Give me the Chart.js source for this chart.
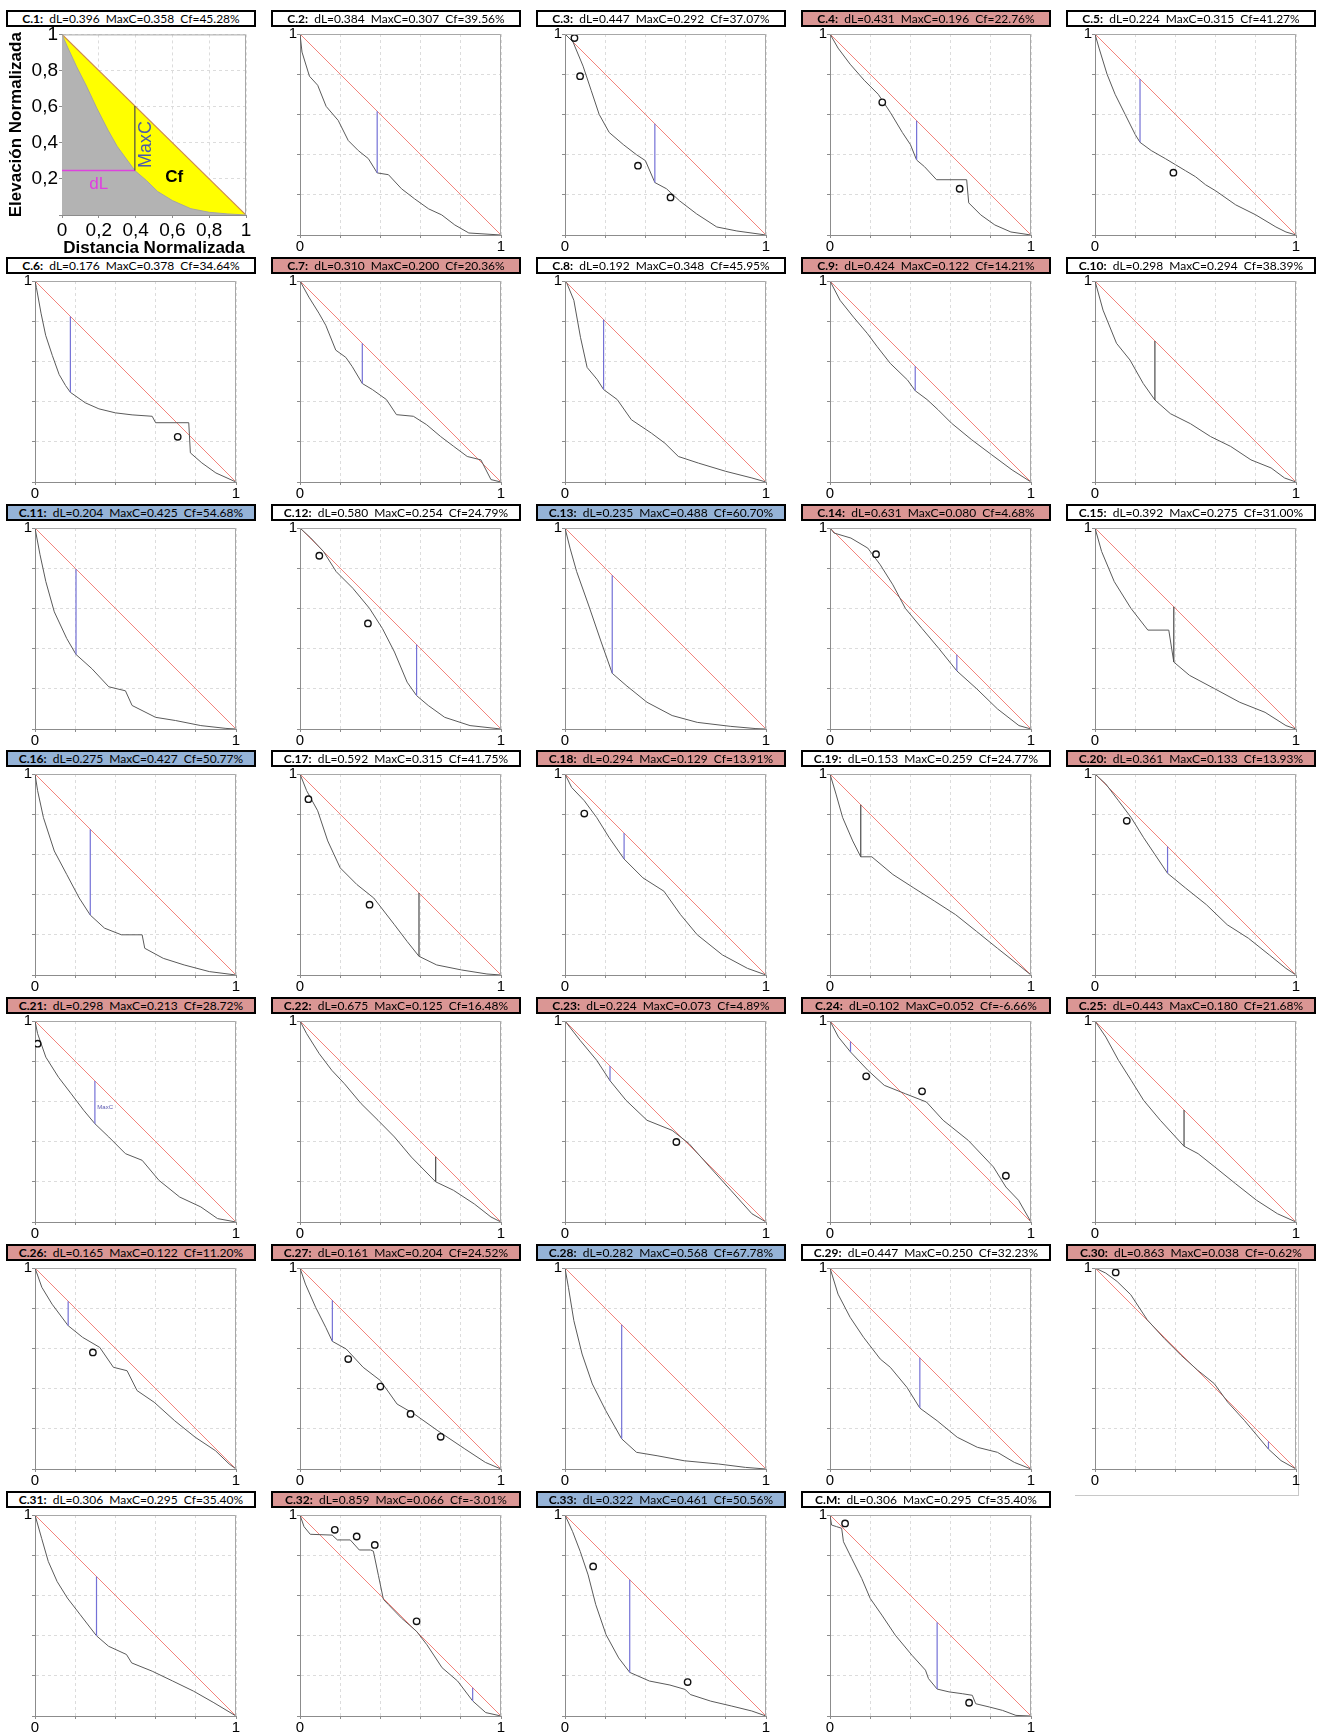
<!DOCTYPE html>
<html>
<head>
<meta charset="utf-8">
<script src="https://cdn.jsdelivr.net/npm/chart.js@4.4.1/dist/chart.umd.min.js"></script>
<style>
  body { margin: 0; width: 1318px; height: 1733px; position: relative; overflow: hidden; background: #fff; }
  .hdr { position: absolute; width: 250px; height: 17px; box-sizing: border-box; border: 2px solid #000;
         font-family: Lato, 'Open Sans', sans-serif; font-size: 12px; line-height: 13px; text-align: center;
         white-space: pre; color: #000; z-index: 2; }
  .hdr.n  { background: #ffffff; }
  .hdr.lo { background: #da9694; }
  .hdr.hi { background: #95b3d7; }
  canvas { position: absolute; z-index: 1; }
  .frame { position: absolute; border-right: 1px solid #c8c8c8; border-bottom: 1px solid #c8c8c8; z-index: 0; }
</style>
</head>
<body>
<script>
// ------------------------------------------------------------
//  Datos de las 34 cuencas
// ------------------------------------------------------------
const panelNames = ['C.1', 'C.2', 'C.3', 'C.4', 'C.5', 'C.6', 'C.7', 'C.8', 'C.9', 'C.10',
  'C.11', 'C.12', 'C.13', 'C.14', 'C.15', 'C.16', 'C.17', 'C.18', 'C.19', 'C.20',
  'C.21', 'C.22', 'C.23', 'C.24', 'C.25', 'C.26', 'C.27', 'C.28', 'C.29', 'C.30',
  'C.31', 'C.32', 'C.33', 'C.M'];
const dLValues = [0.396, 0.384, 0.447, 0.431, 0.224, 0.176, 0.310, 0.192, 0.424, 0.298,
  0.204, 0.580, 0.235, 0.631, 0.392, 0.275, 0.592, 0.294, 0.153, 0.361,
  0.298, 0.675, 0.224, 0.102, 0.443, 0.165, 0.161, 0.282, 0.447, 0.863,
  0.306, 0.859, 0.322, 0.306];
const maxCValues = [0.358, 0.307, 0.292, 0.196, 0.315, 0.378, 0.200, 0.348, 0.122, 0.294,
  0.425, 0.254, 0.488, 0.080, 0.275, 0.427, 0.315, 0.129, 0.259, 0.133,
  0.213, 0.125, 0.073, 0.052, 0.180, 0.122, 0.204, 0.568, 0.250, 0.038,
  0.295, 0.066, 0.461, 0.295];
const cfValues = [45.28, 39.56, 37.07, 22.76, 41.27, 34.64, 20.36, 45.95, 14.21, 38.39,
  54.68, 24.79, 60.70, 4.68, 31.00, 50.77, 41.75, 13.91, 24.77, 13.93,
  28.72, 16.48, 4.89, -6.66, 21.68, 11.20, 24.52, 67.78, 32.23, -0.62,
  35.40, -3.01, 50.56, 35.40];
// clase de cada cuenca (color del encabezado)
const panelClass = ['n', 'n', 'n', 'lo', 'n', 'n', 'lo', 'n', 'lo', 'n',
  'hi', 'n', 'hi', 'lo', 'n', 'hi', 'n', 'lo', 'n', 'lo',
  'lo', 'lo', 'lo', 'lo', 'lo', 'lo', 'lo', 'hi', 'n', 'lo',
  'n', 'lo', 'hi', 'n'];
// tipo de trazo de MaxC: b = azul, k = gris oscuro
const markerKind = ['k', 'b', 'b', 'b', 'b', 'b', 'b', 'b', 'b', 'k',
  'b', 'b', 'b', 'b', 'k', 'b', 'k', 'b', 'k', 'b',
  'b', 'k', 'b', 'b', 'k', 'b', 'b', 'b', 'b', 'b',
  'b', 'b', 'b', 'b'];
// en C.M la linea MaxC esta dibujada en otra posicion: [x, longitud]
const cmMarker = [0.533, 0.333];

const tickValues = [0, 0.2, 0.4, 0.6, 0.8, 1];
const diagonal = [[0, 1], [1, 0]];

// perfiles hipsometricos normalizados [distancia, elevacion]
const c01 = [[0, 1], [0.03, 0.93], [0.08, 0.82], [0.13, 0.72], [0.19, 0.59], [0.25, 0.47], [0.3, 0.38], [0.35, 0.31], [0.396, 0.246], [0.46, 0.19], [0.52, 0.13], [0.6, 0.08], [0.7, 0.035], [0.8, 0.015], [0.9, 0.006], [1, 0]];
const c02 = [[0, 1], [0.01, 0.91], [0.047, 0.79], [0.088, 0.745], [0.13, 0.64], [0.19, 0.57], [0.24, 0.47], [0.29, 0.42], [0.34, 0.38], [0.384, 0.309], [0.44, 0.3], [0.505, 0.23], [0.57, 0.18], [0.64, 0.13], [0.705, 0.1], [0.77, 0.05], [0.84, 0.01], [1, 0]];
const c03 = [[0, 1], [0.04, 0.96], [0.09, 0.84], [0.13, 0.72], [0.17, 0.6], [0.22, 0.51], [0.29, 0.45], [0.355, 0.4], [0.4, 0.37], [0.447, 0.261], [0.505, 0.23], [0.57, 0.17], [0.655, 0.105], [0.755, 0.04], [0.855, 0.02], [1, 0]];
const c04 = [[0, 1], [0.04, 0.93], [0.1, 0.85], [0.17, 0.77], [0.24, 0.7], [0.3, 0.61], [0.36, 0.51], [0.4, 0.45], [0.431, 0.373], [0.47, 0.34], [0.53, 0.275], [0.68, 0.275], [0.69, 0.16], [0.75, 0.1], [0.82, 0.05], [0.9, 0.015], [1, 0]];
const c05 = [[0, 1], [0.02, 0.93], [0.06, 0.8], [0.1, 0.7], [0.15, 0.6], [0.2, 0.5], [0.224, 0.461], [0.28, 0.42], [0.35, 0.38], [0.4, 0.35], [0.45, 0.32], [0.5, 0.29], [0.55, 0.25], [0.6, 0.22], [0.7, 0.15], [0.8, 0.1], [0.9, 0.04], [0.95, 0.015], [1, 0]];
const c06 = [[0, 1], [0.007, 0.967], [0.03, 0.84], [0.053, 0.73], [0.086, 0.63], [0.12, 0.535], [0.152, 0.48], [0.176, 0.446], [0.25, 0.394], [0.318, 0.364], [0.4, 0.344], [0.483, 0.334], [0.583, 0.327], [0.6, 0.295], [0.765, 0.295], [0.773, 0.145], [0.83, 0.095], [0.9, 0.045], [1, 0]];
const c07 = [[0, 1], [0.044, 0.92], [0.094, 0.84], [0.128, 0.78], [0.178, 0.656], [0.228, 0.62], [0.26, 0.574], [0.31, 0.49], [0.36, 0.46], [0.43, 0.41], [0.48, 0.335], [0.564, 0.327], [0.63, 0.285], [0.7, 0.226], [0.765, 0.177], [0.832, 0.127], [0.9, 0.11], [0.95, 0.012], [1, 0]];
const c08 = [[0, 1], [0.01, 0.987], [0.044, 0.904], [0.077, 0.72], [0.11, 0.57], [0.16, 0.51], [0.192, 0.46], [0.26, 0.41], [0.33, 0.31], [0.43, 0.243], [0.497, 0.193], [0.564, 0.127], [0.664, 0.094], [0.8, 0.053], [0.93, 0.02], [1, 0]];
const c09 = [[0, 1], [0.05, 0.904], [0.117, 0.82], [0.185, 0.74], [0.235, 0.673], [0.3, 0.59], [0.386, 0.507], [0.424, 0.454], [0.483, 0.41], [0.537, 0.36], [0.604, 0.293], [0.705, 0.21], [0.805, 0.135], [0.906, 0.06], [1, 0]];
const c10 = [[0, 1], [0.04, 0.855], [0.107, 0.69], [0.174, 0.607], [0.24, 0.49], [0.298, 0.408], [0.375, 0.34], [0.475, 0.29], [0.575, 0.226], [0.675, 0.177], [0.776, 0.11], [0.876, 0.07], [0.943, 0.02], [1, 0]];
const c11 = [[0, 1], [0.025, 0.867], [0.054, 0.733], [0.096, 0.583], [0.158, 0.45], [0.204, 0.371], [0.283, 0.3], [0.367, 0.21], [0.45, 0.19], [0.483, 0.117], [0.6, 0.058], [0.7, 0.042], [0.825, 0.017], [0.95, 0.003], [1, 0]];
const c12 = [[0, 1], [0.054, 0.95], [0.117, 0.883], [0.18, 0.783], [0.263, 0.7], [0.346, 0.6], [0.41, 0.5], [0.47, 0.383], [0.533, 0.233], [0.58, 0.166], [0.638, 0.117], [0.72, 0.058], [0.846, 0.017], [1, 0]];
const c13 = [[0, 1], [0.025, 0.9], [0.058, 0.783], [0.117, 0.617], [0.18, 0.433], [0.235, 0.277], [0.304, 0.217], [0.408, 0.133], [0.533, 0.067], [0.658, 0.033], [0.825, 0.013], [0.95, 0.002], [1, 0]];
const c14 = [[0, 1], [0.02, 0.975], [0.104, 0.95], [0.188, 0.9], [0.25, 0.817], [0.313, 0.717], [0.375, 0.6], [0.458, 0.5], [0.542, 0.4], [0.631, 0.289], [0.73, 0.2], [0.833, 0.1], [0.94, 0.017], [1, 0]];
const c15 = [[0, 1], [0.033, 0.883], [0.096, 0.733], [0.179, 0.6], [0.263, 0.492], [0.367, 0.492], [0.392, 0.333], [0.47, 0.267], [0.596, 0.2], [0.72, 0.133], [0.846, 0.083], [0.95, 0.017], [1, 0]];
const c16 = [[0, 1], [0.013, 0.917], [0.042, 0.783], [0.096, 0.617], [0.158, 0.5], [0.22, 0.383], [0.275, 0.298], [0.346, 0.233], [0.43, 0.2], [0.533, 0.2], [0.546, 0.133], [0.638, 0.083], [0.742, 0.05], [0.867, 0.017], [1, 0]];
const c17 = [[0, 1], [0.033, 0.917], [0.088, 0.817], [0.138, 0.667], [0.2, 0.533], [0.283, 0.45], [0.367, 0.383], [0.47, 0.25], [0.533, 0.167], [0.592, 0.093], [0.68, 0.05], [0.804, 0.025], [0.93, 0.005], [1, 0]];
const c18 = [[0, 1], [0.033, 0.933], [0.096, 0.867], [0.158, 0.783], [0.22, 0.683], [0.294, 0.577], [0.388, 0.483], [0.492, 0.417], [0.575, 0.3], [0.658, 0.2], [0.783, 0.1], [0.908, 0.033], [1, 0]];
const c19 = [[0, 1], [0.03, 0.9], [0.063, 0.783], [0.113, 0.667], [0.153, 0.588], [0.208, 0.588], [0.313, 0.5], [0.417, 0.433], [0.521, 0.367], [0.625, 0.3], [0.729, 0.217], [0.833, 0.133], [0.938, 0.05], [1, 0]];
const c20 = [[0, 1], [0.054, 0.95], [0.117, 0.867], [0.18, 0.783], [0.242, 0.683], [0.361, 0.506], [0.45, 0.433], [0.554, 0.35], [0.658, 0.25], [0.763, 0.183], [0.867, 0.1], [0.95, 0.033], [1, 0]];
const c21 = [[0, 1], [0.013, 0.937], [0.054, 0.82], [0.117, 0.72], [0.18, 0.638], [0.242, 0.556], [0.298, 0.489], [0.367, 0.423], [0.45, 0.34], [0.533, 0.307], [0.617, 0.207], [0.72, 0.124], [0.825, 0.075], [0.908, 0.017], [1, 0]];
const c22 = [[0, 1], [0.033, 0.937], [0.096, 0.837], [0.158, 0.755], [0.221, 0.688], [0.304, 0.589], [0.388, 0.506], [0.47, 0.423], [0.554, 0.323], [0.675, 0.2], [0.763, 0.158], [0.867, 0.09], [0.95, 0.025], [1, 0]];
const c23 = [[0, 1], [0.075, 0.904], [0.158, 0.804], [0.224, 0.703], [0.304, 0.605], [0.408, 0.506], [0.533, 0.456], [0.617, 0.39], [0.72, 0.274], [0.825, 0.158], [0.93, 0.041], [1, 0]];
const c24 = [[0, 1], [0.042, 0.92], [0.102, 0.846], [0.188, 0.755], [0.27, 0.68], [0.375, 0.638], [0.48, 0.597], [0.563, 0.506], [0.688, 0.406], [0.813, 0.274], [0.875, 0.174], [0.938, 0.108], [1, 0]];
const c25 = [[0, 1], [0.054, 0.92], [0.117, 0.804], [0.18, 0.705], [0.242, 0.605], [0.325, 0.506], [0.443, 0.377], [0.513, 0.34], [0.596, 0.274], [0.7, 0.19], [0.804, 0.108], [0.908, 0.041], [1, 0]];
const c26 = [[0, 1], [0.034, 0.904], [0.085, 0.82], [0.165, 0.713], [0.237, 0.655], [0.322, 0.605], [0.39, 0.506], [0.458, 0.489], [0.508, 0.39], [0.593, 0.332], [0.695, 0.24], [0.797, 0.158], [0.898, 0.091], [0.966, 0.025], [1, 0]];
const c27 = [[0, 1], [0.027, 0.92], [0.078, 0.804], [0.128, 0.705], [0.161, 0.635], [0.23, 0.597], [0.314, 0.506], [0.4, 0.44], [0.483, 0.323], [0.568, 0.274], [0.686, 0.19], [0.82, 0.1], [0.922, 0.033], [1, 0]];
const c28 = [[0, 1], [0.017, 0.904], [0.044, 0.738], [0.085, 0.572], [0.136, 0.423], [0.203, 0.29], [0.282, 0.15], [0.356, 0.083], [0.458, 0.066], [0.593, 0.041], [0.763, 0.025], [0.898, 0.008], [1, 0]];
const c29 = [[0, 1], [0.04, 0.87], [0.1, 0.755], [0.167, 0.655], [0.25, 0.547], [0.3, 0.506], [0.383, 0.406], [0.447, 0.303], [0.533, 0.24], [0.633, 0.158], [0.733, 0.108], [0.833, 0.083], [0.917, 0.033], [1, 0]];
const c30 = [[0, 1], [0.053, 0.975], [0.11, 0.933], [0.178, 0.867], [0.26, 0.742], [0.344, 0.65], [0.427, 0.567], [0.51, 0.492], [0.593, 0.425], [0.66, 0.333], [0.743, 0.242], [0.863, 0.099], [0.925, 0.042], [1, 0]];
const c31 = [[0, 1], [0.033, 0.884], [0.066, 0.769], [0.11, 0.669], [0.161, 0.587], [0.225, 0.504], [0.306, 0.399], [0.366, 0.347], [0.455, 0.306], [0.481, 0.264], [0.583, 0.223], [0.685, 0.174], [0.788, 0.124], [0.89, 0.066], [1, 0]];
const c32 = [[0, 1], [0.02, 0.942], [0.051, 0.904], [0.16, 0.9], [0.186, 0.876], [0.25, 0.876], [0.295, 0.826], [0.351, 0.826], [0.365, 0.82], [0.39, 0.7], [0.415, 0.58], [0.44, 0.554], [0.504, 0.488], [0.58, 0.421], [0.631, 0.355], [0.707, 0.24], [0.784, 0.174], [0.859, 0.075], [0.924, 0.017], [1, 0]];
const c33 = [[0, 1], [0.038, 0.917], [0.076, 0.818], [0.115, 0.702], [0.153, 0.554], [0.204, 0.405], [0.267, 0.289], [0.322, 0.217], [0.42, 0.174], [0.522, 0.154], [0.598, 0.132], [0.623, 0.107], [0.725, 0.074], [0.827, 0.05], [0.929, 0.025], [1, 0]];
const cM  = [[0, 1], [0.008, 0.95], [0.033, 0.942], [0.058, 0.934], [0.067, 0.867], [0.108, 0.784], [0.158, 0.684], [0.2, 0.585], [0.258, 0.502], [0.325, 0.402], [0.408, 0.302], [0.475, 0.228], [0.49, 0.186], [0.533, 0.134], [0.592, 0.12], [0.658, 0.111], [0.708, 0.103], [0.725, 0.061], [0.792, 0.045], [0.858, 0.028], [0.925, 0.003], [1, 0]];

// puntos de control (circulos)
const o03 = [[0.047, 0.98], [0.075, 0.79], [0.363, 0.345], [0.525, 0.187]];
const o04 = [[0.26, 0.66], [0.645, 0.23]];
const o05 = [[0.39, 0.31]];
const o06 = [[0.71, 0.225]];
const o12 = [[0.096, 0.862], [0.338, 0.525]];
const o14 = [[0.229, 0.87]];
const o17 = [[0.042, 0.875], [0.346, 0.35]];
const o18 = [[0.096, 0.803]];
const o20 = [[0.158, 0.767]];
const o21 = [[0.013, 0.887]];
const o23 = [[0.554, 0.398]];
const o24 = [[0.18, 0.725], [0.458, 0.65], [0.875, 0.23]];
const o26 = [[0.288, 0.58]];
const o27 = [[0.24, 0.547], [0.4, 0.41], [0.55, 0.274], [0.7, 0.16]];
const o30 = [[0.103, 0.978]];
const o32 = [[0.173, 0.926], [0.282, 0.893], [0.372, 0.851], [0.58, 0.471]];
const o33 = [[0.14, 0.744], [0.61, 0.169]];
const oM  = [[0.075, 0.958], [0.692, 0.066]];

const profiles = [c01, c02, c03, c04, c05, c06, c07, c08, c09, c10, c11, c12, c13, c14, c15, c16, c17,
  c18, c19, c20, c21, c22, c23, c24, c25, c26, c27, c28, c29, c30, c31, c32, c33, cM];
const circleSets = [[], [], o03, o04, o05, o06, [], [], [], [], [], o12, [], o14, [], [], o17,
  o18, [], o20, o21, [], o23, o24, [], o26, o27, [], [], o30, [], o32, o33, oM];

// ------------------------------------------------------------
//  Estilo
// ------------------------------------------------------------
const TICK_FONT = "'Liberation Sans', Arial, sans-serif";
const COLORS = {
  curve: '#5a5a5a',
  diag: '#f3837c',
  blue: '#7471d6',
  dark: '#4a4a4a',
  grid: '#dcdcdc',
  axis: '#8c8c8c'
};

const pts = a => a.map(([x, y]) => ({ x, y }));
const isVal = (v, t) => Math.abs(v - t) < 1e-6;

function tickText(v, isX, big) {
  if (isVal(v, 0)) return isX ? '0' : '';
  if (isVal(v, 1)) return '1';
  return big ? v.toFixed(1).replace('.', ',') : '';
}

function axis(isX, big) {
  const cfg = {
    type: 'linear', min: 0, max: 1,
    afterBuildTicks: s => { s.ticks = tickValues.map(v => ({ value: v })); },
    afterFit: s => { if (isX) s.height = big ? 44 : 20; else s.width = big ? 62 : 24; },
    ticks: {
      autoSkip: false, maxRotation: 0, padding: big ? 1 : 0, color: '#000',
      font: { family: TICK_FONT, size: big ? 19 : 15 },
      callback: v => tickText(v, isX, big)
    },
    grid: { color: COLORS.grid, tickColor: COLORS.axis, tickLength: 3 },
    border: { color: COLORS.axis, dash: [3, 3] }
  };
  if (big) {
    cfg.title = {
      display: true, color: '#000',
      text: isX ? 'Distancia Normalizada' : 'Elevación Normalizada',
      font: { family: TICK_FONT, size: 17, weight: 'bold' },
      padding: isX ? { top: 0, bottom: 0 } : { top: 6, bottom: 0 }
    };
  }
  return cfg;
}

function decor(i) {
  return {
    id: 'decor',
    afterDatasetsDraw(chart) {
      const { ctx, chartArea: a, scales: { x, y } } = chart;
      ctx.save();
      ctx.strokeStyle = '#a8a8a8';
      ctx.lineWidth = 1;
      ctx.beginPath();
      ctx.moveTo(a.left, a.top + 0.5);
      ctx.lineTo(a.right - 0.5, a.top + 0.5);
      ctx.lineTo(a.right - 0.5, a.bottom);
      ctx.stroke();
      if (i === 0) {
        ctx.fillStyle = '#4b5bab';
        ctx.font = "18px " + TICK_FONT;
        ctx.textAlign = 'center';
        ctx.textBaseline = 'middle';
        ctx.save();
        ctx.translate(x.getPixelForValue(0.455), y.getPixelForValue(0.39));
        ctx.rotate(-Math.PI / 2);
        ctx.fillText('MaxC', 0, 0);
        ctx.restore();
        ctx.fillStyle = '#e03fe0';
        ctx.font = "17px " + TICK_FONT;
        ctx.fillText('dL', x.getPixelForValue(0.2), y.getPixelForValue(0.17));
        ctx.fillStyle = '#000';
        ctx.font = "bold 17px " + TICK_FONT;
        ctx.fillText('Cf', x.getPixelForValue(0.61), y.getPixelForValue(0.21));
      }
      if (i === 20) {
        ctx.fillStyle = '#5a58b0';
        ctx.font = "6px " + TICK_FONT;
        ctx.textBaseline = 'middle';
        ctx.fillText('MaxC', x.getPixelForValue(0.31), y.getPixelForValue(0.57));
      }
      ctx.restore();
    }
  };
}

// ------------------------------------------------------------
//  Paneles
// ------------------------------------------------------------
panelNames.forEach((name, i) => {
  const big = i === 0;
  const col = i % 5, row = Math.floor(i / 5);
  const baseL = Math.round(35 + 265 * col);
  const baseT = Math.round(10 + 246.8 * row);
  const plotL = big ? 62 : baseL;
  const plotT = big ? 32 : baseT + 24;
  const plotW = big ? 184 : 201, plotH = big ? 183 : 201;

  const hdr = document.createElement('div');
  hdr.className = 'hdr ' + panelClass[i];
  hdr.style.left = (baseL - 29) + 'px';
  hdr.style.top = baseT + 'px';
  hdr.innerHTML = `<b>${name}:</b>  dL=${dLValues[i].toFixed(3)}  MaxC=${maxCValues[i].toFixed(3)}  Cf=${cfValues[i].toFixed(2)}%`;
  document.body.appendChild(hdr);

  if (name === 'C.30') {
    const fr = document.createElement('div');
    fr.className = 'frame';
    fr.style.left = (baseL - 20) + 'px';
    fr.style.top = (baseT + 18) + 'px';
    fr.style.width = (plotW + 22) + 'px';
    fr.style.height = (plotH + 32) + 'px';
    document.body.appendChild(fr);
  }

  const axisW = big ? 62 : 24, axisH = big ? 44 : 20, padT = 10, padR = 10;
  const cv = document.createElement('canvas');
  cv.width = axisW + plotW + padR;
  cv.height = padT + plotH + axisH;
  cv.style.left = (plotL - axisW) + 'px';
  cv.style.top = (plotT - padT) + 'px';
  document.body.appendChild(cv);

  const isMean = name === 'C.M';
  const at = isMean ? cmMarker[0] : dLValues[i];
  const len = isMean ? cmMarker[1] : maxCValues[i];
  const low = 1 - at - len;
  const line = (data, color, width, order) => ({
    data: pts(data), borderColor: color, borderWidth: width, pointRadius: 0, tension: 0, order
  });

  let datasets;
  if (big) {
    datasets = [
      Object.assign(line(diagonal, '#cd8a50', 1.2, 5), { fill: 'origin', backgroundColor: '#ffff00' }),
      Object.assign(line(profiles[i], '#a4a4a4', 1, 4), { fill: 'origin', backgroundColor: '#b3b3b3' }),
      line([[at, low], [at, 1 - at]], COLORS.dark, 1.2, 1),
      line([[0, low], [at, low]], '#dd44dd', 1.5, 1)
    ];
  } else {
    datasets = [
      {
        data: pts(circleSets[i]), showLine: false, pointRadius: 3.2, pointBorderWidth: 1.4,
        pointBorderColor: '#111', pointBackgroundColor: '#fff', order: 0
      },
      line([[at, low], [at, 1 - at]], markerKind[i] === 'b' ? COLORS.blue : COLORS.dark, 1.2, 1),
      line(profiles[i], COLORS.curve, 1, 2),
      line(diagonal, COLORS.diag, 1, 3)
    ];
  }

  new Chart(cv, {
    type: 'line',
    data: { datasets },
    options: {
      responsive: false,
      animation: false,
      events: [],
      layout: { padding: { top: padT, right: padR, left: 0, bottom: 0 } },
      plugins: { legend: { display: false }, tooltip: { enabled: false } },
      scales: { x: axis(true, big), y: axis(false, big) }
    },
    plugins: [decor(i)]
  });
});
</script>
</body>
</html>
